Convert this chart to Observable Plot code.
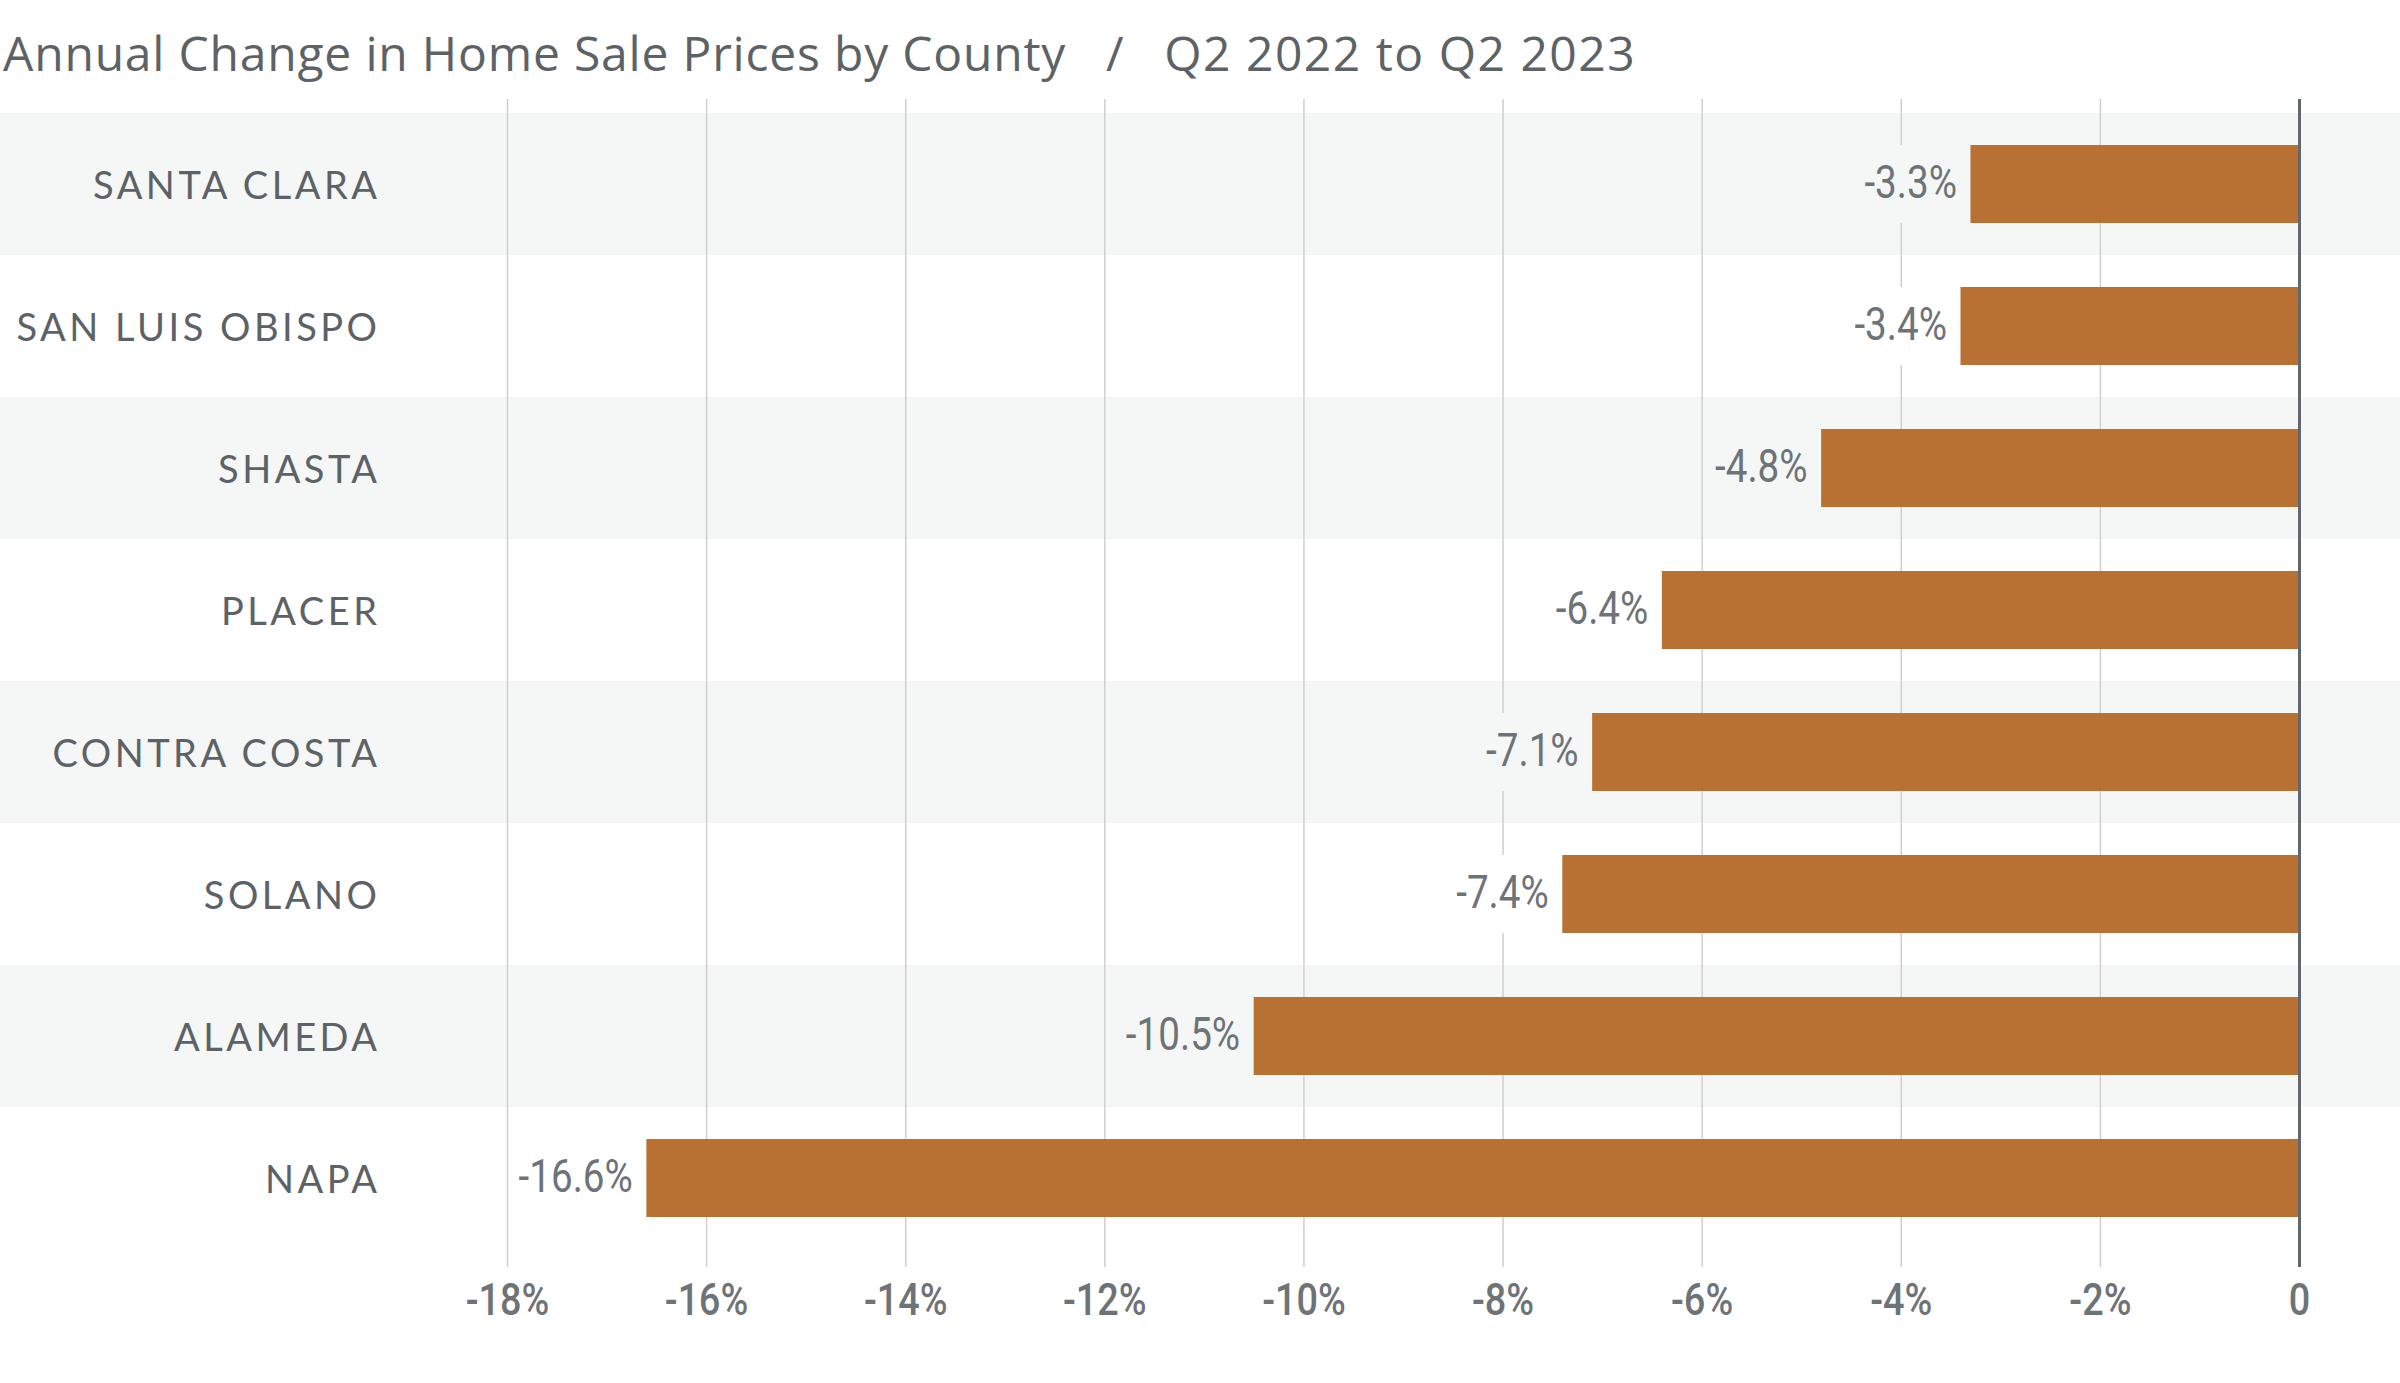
<!DOCTYPE html>
<html>
<head>
<meta charset="utf-8">
<script src="https://cdn.jsdelivr.net/npm/d3@7"></script>
<script src="https://cdn.jsdelivr.net/npm/@observablehq/plot@0.6"></script>
<style>
  html, body { margin: 0; padding: 0; background: #ffffff; }
  body { width: 2400px; height: 1383px; position: relative; overflow: hidden; }
  #title {
    position: absolute; left: 3px; top: 25px;
    font-family: "Open Sans", Lato, sans-serif; font-size: 48px; line-height: 56px;
    letter-spacing: 0.8px;
    color: #5d6266; white-space: pre;
  }
  #title .sub { letter-spacing: 1.5px; }
  #chart { position: absolute; left: 0; top: 95px; }
  #chart svg [aria-label="y-axis tick label"] text { letter-spacing: 3.5px; }
</style>
</head>
<body>
<div id="title">Annual Change in Home Sale Prices by County   /   <span class="sub">Q2 2022 to Q2 2023</span></div>
<div id="chart"></div>
<script>
const counties = ["SANTA CLARA", "SAN LUIS OBISPO", "SHASTA", "PLACER", "CONTRA COSTA", "SOLANO", "ALAMEDA", "NAPA"];
const changes = [-3.3, -3.4, -4.8, -6.4, -7.1, -7.4, -10.5, -16.6];
const xTicks = [-18, -16, -14, -12, -10, -8, -6, -4, -2, 0];
const xTickLabels = ["-18%", "-16%", "-14%", "-12%", "-10%", "-8%", "-6%", "-4%", "-2%", "0"];

const bandColor = "#f5f7f6";
const data = counties.map((c, i) => ({county: c, change: changes[i], shaded: i % 2 === 0}));

const numFont = 'Roboto, Lato, sans-serif';
const mL = 507, mR = 101;

const chart = Plot.plot({
  width: 2400,
  height: 1288,
  marginLeft: mL,
  marginRight: mR,
  marginTop: 17,
  marginBottom: 134,
  style: {background: "transparent", overflow: "visible"},
  x: {domain: [-18, 0]},
  y: {domain: counties, padding: 0},
  marks: [
    Plot.cell(data.filter(d => d.shaded), {y: "county", fill: bandColor, insetLeft: -mL, insetRight: -mR}),
    Plot.ruleX(xTicks.filter(t => t !== 0), {stroke: "#cfcfcf", strokeWidth: 1.5, insetTop: -13, insetBottom: -18}),
    Plot.text(data, {
      x: "change", y: "county",
      text: d => d.change.toFixed(1) + "%",
      textAnchor: "end", dx: -14, dy: -1,
      fill: "#6e7377",
      fontSize: 46,
      fontFamily: numFont,
      className: "vlabel"
    }),
    Plot.barX(data, {x: "change", y: "county", fill: "#b87033", insetTop: 32, insetBottom: 32, className: "vbar"}),
    Plot.ruleX([0], {stroke: "#62676b", strokeWidth: 3, insetTop: -13, insetBottom: -18}),
    Plot.axisX(xTicks, {
      tickSize: 0, tickPadding: 34,
      tickFormat: d => xTickLabels[xTicks.indexOf(d)],
      fontSize: 45, fontWeight: 500, fontFamily: numFont, fill: "#6e7377", label: null
    }),
    Plot.axisY({
      tickSize: 0, tickPadding: 127, dy: 2,
      fontSize: 38, fontFamily: 'Lato, "Open Sans", sans-serif', fill: "#5c6266", label: null
    })
  ]
});
document.getElementById("chart").appendChild(chart);

// condensed look for numeric labels (horizontal squeeze, text stays real text)
function squeeze(sel, s) {
  chart.querySelectorAll(sel).forEach(t => {
    let tr = t.getAttribute("transform");
    if (!tr) {
      const x = t.getAttribute("x") || 0, y = t.getAttribute("y") || 0;
      t.removeAttribute("x"); t.removeAttribute("y");
      tr = `translate(${x},${y})`;
    }
    t.setAttribute("transform", tr + ` scale(${s},1)`);
  });
}
squeeze('g.vlabel text', 0.84);
squeeze('g[aria-label="x-axis tick label"] text', 0.84);

// bar-high background box behind each value label (hides gridlines as in the original)
const svgBox = chart.getBoundingClientRect();
const labelG = chart.querySelector("g.vlabel");
const bars = chart.querySelectorAll("g.vbar rect");
const boxG = document.createElementNS("http://www.w3.org/2000/svg", "g");
labelG.querySelectorAll("text").forEach((t, i) => {
  const b = t.getBoundingClientRect();
  const bar = bars[i];
  const r = document.createElementNS("http://www.w3.org/2000/svg", "rect");
  r.setAttribute("x", b.left - svgBox.left - 6);
  r.setAttribute("width", b.width + 12);
  r.setAttribute("y", bar.getAttribute("y"));
  r.setAttribute("height", bar.getAttribute("height"));
  r.setAttribute("fill", data[i].shaded ? bandColor : "#ffffff");
  boxG.appendChild(r);
});
labelG.parentNode.insertBefore(boxG, labelG);
</script>
</body>
</html>
